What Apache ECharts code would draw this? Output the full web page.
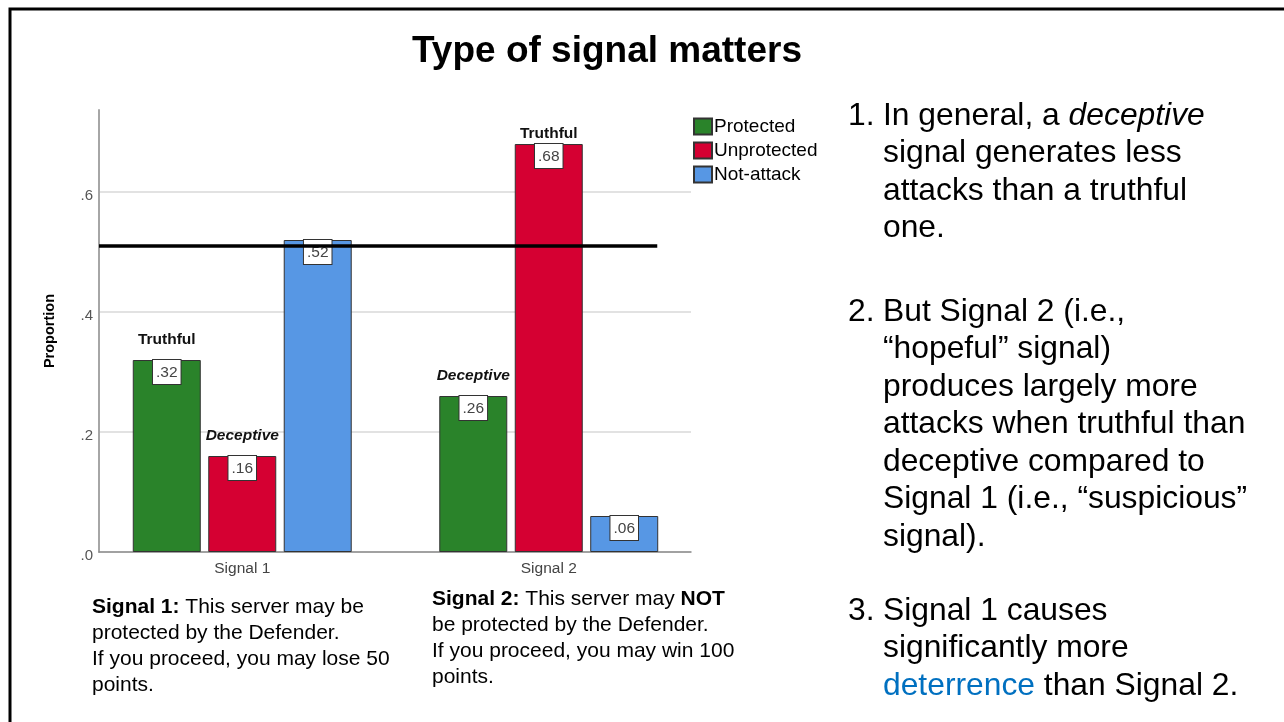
<!DOCTYPE html>
<html>
<head>
<meta charset="utf-8">
<title>Type of signal matters</title>
<script src="https://cdn.jsdelivr.net/npm/echarts@6/dist/echarts.min.js"></script>
<style>
  html, body { margin: 0; padding: 0; background: #fff; }
  #chart { width: 1284px; height: 722px; }
</style>
</head>
<body>
<div id="chart"></div>
<script>
// ---- data ----
const categories = ['Signal 1', 'Signal 2'];
const seriesNames = ['Protected', 'Unprotected', 'Not-attack'];
const protectedValues = [0.32, 0.26];
const unprotectedValues = [0.16, 0.68];
const notAttackValues = [0.52, 0.06];
const protectedNotes = ['Truthful', 'Deceptive'];
const unprotectedNotes = ['Deceptive', 'Truthful'];
const yTickValues = [0, 0.2, 0.4, 0.6];
const yAxisMax = 0.7367;
const referenceValue = 0.51;
const referenceExtent = [0, 0.943];

// ---- styling ----
const FONT = '"Liberation Sans", Arial, Helvetica, sans-serif';
const COLORS = ['#2a832a', '#d50032', '#5797e4'];
const BAR_BORDER = '#333333';
const AXIS_TOP = 110;
const AXIS_HEIGHT = 442;

const fmtValue = v => v.toFixed(2).replace(/^0/, '');
const fmtTick = v => v.toFixed(1).replace(/^0/, '');
const tallest = Math.max(...protectedValues, ...unprotectedValues, ...notAttackValues);

function mainSeries(name, values, color) {
  return {
    name: name,
    type: 'bar',
    stack: name,
    xAxisIndex: 0,
    yAxisIndex: 0,
    barWidth: 68,
    barGap: '11%',
    data: values,
    itemStyle: { color: color, borderColor: BAR_BORDER, borderWidth: 1 },
    label: {
      show: true,
      position: 'insideTop',
      distance: 0,
      formatter: p => fmtValue(p.value),
      fontFamily: FONT,
      fontSize: 15.5,
      lineHeight: 17,
      color: '#444',
      backgroundColor: '#fff',
      borderColor: '#333',
      borderWidth: 1,
      padding: [4, 3, 3, 3]
    },
    z: 3
  };
}

// zero-height bars stacked on top of each bar, carrying the Truthful / Deceptive note
function noteSeries(name, values, notes) {
  return {
    name: name + ' note',
    type: 'bar',
    stack: name,
    xAxisIndex: 0,
    yAxisIndex: 0,
    barWidth: 68,
    barGap: '11%',
    silent: true,
    itemStyle: { color: 'rgba(0,0,0,0)', borderWidth: 0 },
    data: notes.map((note, i) => ({
      value: 0,
      label: {
        show: note !== '',
        formatter: note,
        fontStyle: note === 'Deceptive' ? 'italic' : 'normal',
        distance: values[i] === tallest ? 2 : 12
      }
    })),
    label: {
      position: 'top',
      fontFamily: FONT,
      fontSize: 15.5,
      fontWeight: 'bold',
      color: '#111'
    },
    z: 3
  };
}

function textBlock(x, y, text, size, lineHeight, rich) {
  return {
    type: 'text',
    x: x,
    y: y,
    silent: true,
    style: {
      text: text,
      fontFamily: FONT,
      fontSize: size,
      lineHeight: lineHeight,
      fill: '#000',
      align: 'left',
      verticalAlign: 'top',
      rich: rich || {}
    }
  };
}

const BULLET_SIZE = 31.8;
const BULLET_LH = 37.5;
const richBullet = {
  i: { fontFamily: FONT, fontSize: BULLET_SIZE, lineHeight: BULLET_LH, fontStyle: 'italic', fill: '#000' },
  b: { fontFamily: FONT, fontSize: BULLET_SIZE, lineHeight: BULLET_LH, fill: '#0070c0' }
};
const CAP_SIZE = 21;
const CAP_LH = 26;
const richCaption = {
  b: { fontFamily: FONT, fontSize: CAP_SIZE, lineHeight: CAP_LH, fontWeight: 'bold', fill: '#000' }
};

const option = {
  animation: false,
  backgroundColor: '#fff',
  textStyle: { fontFamily: FONT },
  legend: {
    data: seriesNames,
    orient: 'vertical',
    left: 693,
    top: 117,
    padding: 0,
    itemWidth: 18,
    itemHeight: 16,
    itemGap: 5,
    icon: 'rect',
    selectedMode: false,
    textStyle: { fontFamily: FONT, fontSize: 19, color: '#000', padding: [0, 0, 0, -3] }
  },
  grid: [
    { left: 89, width: 613, top: AXIS_TOP, height: AXIS_HEIGHT },
    { left: 99, width: 592, top: AXIS_TOP, height: AXIS_HEIGHT }
  ],
  xAxis: [
    {
      type: 'category',
      gridIndex: 0,
      data: categories,
      axisLine: { show: false },
      axisTick: { show: false },
      axisLabel: { fontFamily: FONT, fontSize: 15.5, color: '#444', margin: 9 }
    },
    {
      type: 'value',
      gridIndex: 1,
      min: 0,
      max: 1,
      axisLine: { show: true, onZero: false, lineStyle: { color: '#8c8c8c', width: 1.5 } },
      axisTick: { show: false },
      axisLabel: { show: false },
      splitLine: { show: false }
    }
  ],
  yAxis: [
    {
      type: 'value',
      gridIndex: 0,
      min: yTickValues[0],
      max: yAxisMax,
      show: false,
      splitLine: { show: false }
    },
    {
      type: 'value',
      gridIndex: 1,
      min: yTickValues[0],
      max: yAxisMax,
      interval: yTickValues[1] - yTickValues[0],
      name: 'Proportion',
      nameLocation: 'middle',
      nameGap: 42,
      nameRotate: 90,
      nameTextStyle: { fontFamily: FONT, fontSize: 14.5, fontWeight: 'bold', color: '#000' },
      axisLine: { show: true, lineStyle: { color: '#a6a6a6', width: 2 } },
      axisTick: { show: false },
      axisLabel: {
        fontFamily: FONT,
        fontSize: 15,
        color: '#555',
        margin: 6,
        verticalAlign: 'top',
        lineHeight: 8,
        showMaxLabel: false,
        formatter: fmtTick
      },
      splitLine: { show: true, showMaxLine: false, lineStyle: { color: '#d9d9d9', width: 1.5 } }
    }
  ],
  series: [
    mainSeries(seriesNames[0], protectedValues, COLORS[0]),
    mainSeries(seriesNames[1], unprotectedValues, COLORS[1]),
    mainSeries(seriesNames[2], notAttackValues, COLORS[2]),
    noteSeries(seriesNames[0], protectedValues, protectedNotes),
    noteSeries(seriesNames[1], unprotectedValues, unprotectedNotes),
    {
      name: 'Reference',
      type: 'line',
      xAxisIndex: 1,
      yAxisIndex: 1,
      silent: true,
      symbol: 'none',
      data: referenceExtent.map(x => [x, referenceValue]),
      lineStyle: { color: '#000', width: 3.5 },
      z: 20
    }
  ],
  graphic: [
    {
      type: 'rect',
      silent: true,
      shape: { x: 10, y: 9, width: 1320, height: 780 },
      style: { fill: 'none', stroke: '#000', lineWidth: 3 }
    },
    {
      type: 'text',
      x: 607,
      y: 52,
      silent: true,
      style: {
        text: 'Type of signal matters',
        fontFamily: FONT,
        fontSize: 37,
        fontWeight: 'bold',
        fill: '#000',
        align: 'center',
        verticalAlign: 'middle'
      }
    },
    // numbered observations on the right
    textBlock(848, 116 - BULLET_LH / 2, '1.', BULLET_SIZE, BULLET_LH),
    textBlock(883, 116 - BULLET_LH / 2,
      'In general, a {i|deceptive}\nsignal generates less\nattacks than a truthful\none.',
      BULLET_SIZE, BULLET_LH, richBullet),
    textBlock(848, 312 - BULLET_LH / 2, '2.', BULLET_SIZE, BULLET_LH),
    textBlock(883, 312 - BULLET_LH / 2,
      'But Signal 2 (i.e.,\n\u201chopeful\u201d signal)\nproduces largely more\nattacks when truthful than\ndeceptive compared to\nSignal 1 (i.e., \u201csuspicious\u201d\nsignal).',
      BULLET_SIZE, BULLET_LH, richBullet),
    textBlock(848, 611 - BULLET_LH / 2, '3.', BULLET_SIZE, BULLET_LH),
    textBlock(883, 611 - BULLET_LH / 2,
      'Signal 1 causes\nsignificantly more\n{b|deterrence} than Signal 2.',
      BULLET_SIZE, BULLET_LH, richBullet),
    // signal wordings under the chart
    textBlock(92, 607 - CAP_LH / 2,
      '{b|Signal 1:} This server may be\nprotected by the Defender.\nIf you proceed, you may lose 50\npoints.',
      CAP_SIZE, CAP_LH, richCaption),
    textBlock(432, 599 - CAP_LH / 2,
      '{b|Signal 2:} This server may {b|NOT}\nbe protected by the Defender.\nIf you proceed, you may win 100\npoints.',
      CAP_SIZE, CAP_LH, richCaption)
  ]
};

const chart = echarts.init(document.getElementById('chart'), null, { renderer: 'canvas' });
chart.setOption(option);
</script>
</body>
</html>
